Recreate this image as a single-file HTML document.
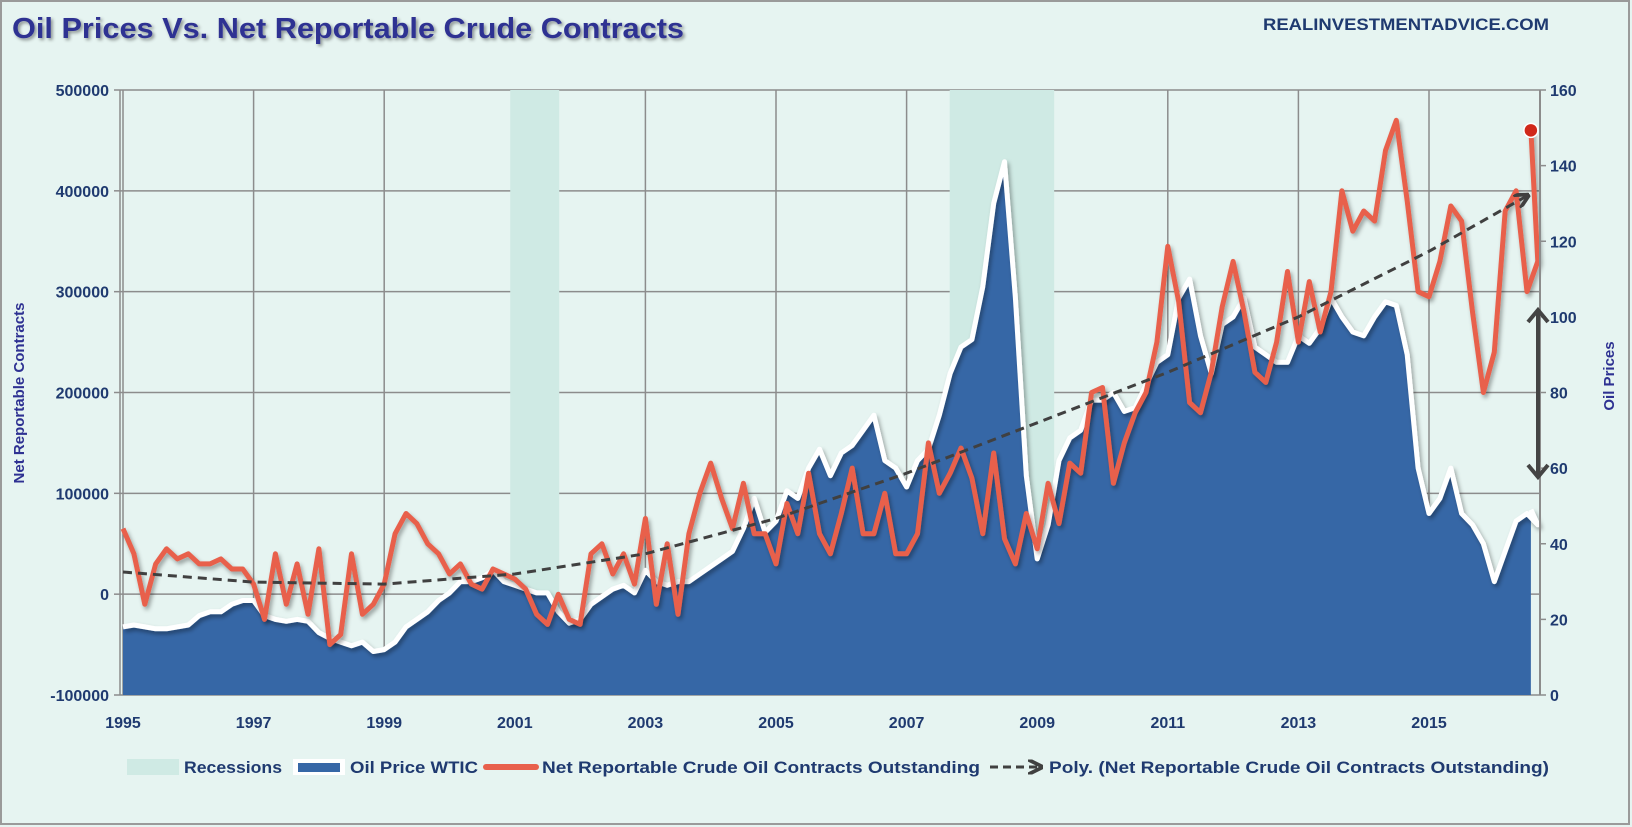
<!DOCTYPE html>
<html><head><meta charset="utf-8"><style>
html,body{margin:0;padding:0;background:#e6f4f1;}
svg{display:block;font-family:"Liberation Sans",Arial,sans-serif;}
</style></head><body>
<svg id="chart" width="1632" height="827" viewBox="0 0 1632 827">
<defs>
<filter id="sh" x="-5%" y="-5%" width="110%" height="110%"><feDropShadow dx="2" dy="3" stdDeviation="2" flood-color="#000" flood-opacity="0.35"/></filter>
<filter id="tsh"><feDropShadow dx="2" dy="2" stdDeviation="1.5" flood-color="#000" flood-opacity="0.4"/></filter>
<marker id="arr" viewBox="0 0 10 10" refX="8" refY="5" markerWidth="5" markerHeight="5" orient="auto"><path d="M0,0 L10,5 L0,10" fill="none" stroke="#404040" stroke-width="2.5"/></marker>
</defs>
<rect x="1" y="1" width="1628" height="823" fill="#e6f4f1" stroke="#9a9a9a" stroke-width="2"/>
<text x="12" y="38" font-size="29" font-weight="bold" fill="#2e3192" textLength="672" lengthAdjust="spacingAndGlyphs" filter="url(#tsh)">Oil Prices Vs. Net Reportable Crude Contracts</text>
<text x="1263" y="30" font-size="17" font-weight="bold" fill="#1f3a70" textLength="286" lengthAdjust="spacingAndGlyphs">REALINVESTMENTADVICE.COM</text>
<g id="grid"></g>
<g id="recess"></g>
<g id="oil"></g>
<g id="net"></g>
<g id="trend"></g>
<g id="axes"></g>
<text transform="translate(24,393) rotate(-90)" text-anchor="middle" font-size="15" font-weight="bold" fill="#2e3192">Net Reportable Contracts</text>
<text transform="translate(1614,376) rotate(-90)" text-anchor="middle" font-size="15" font-weight="bold" fill="#2e3192">Oil Prices</text>
<g>
<line x1="1538" y1="312" x2="1538" y2="475" stroke="#444" stroke-width="4"/>
<path d="M1528,322 L1538,310 L1548,322" fill="none" stroke="#444" stroke-width="4"/>
<path d="M1528,465 L1538,477 L1548,465" fill="none" stroke="#444" stroke-width="4"/>
</g>
<g>
<rect x="127" y="759" width="52" height="16" fill="#cfeae4"/>
<text x="184" y="773" font-size="17" font-weight="bold" fill="#1f3a70" textLength="98" lengthAdjust="spacingAndGlyphs">Recessions</text>
<rect x="293" y="759" width="52" height="16" fill="#fff"/>
<rect x="298" y="763" width="42" height="9" fill="#3667a6"/>
<text x="350" y="773" font-size="17" font-weight="bold" fill="#1f3a70" textLength="128" lengthAdjust="spacingAndGlyphs">Oil Price WTIC</text>
<line x1="486" y1="767" x2="536" y2="767" stroke="#e8604c" stroke-width="6" stroke-linecap="round"/>
<text x="542" y="773" font-size="17" font-weight="bold" fill="#1f3a70" textLength="438" lengthAdjust="spacingAndGlyphs">Net Reportable Crude Oil Contracts Outstanding</text>
<line x1="990" y1="767" x2="1040" y2="767" stroke="#404040" stroke-width="3" stroke-dasharray="8,5" marker-end="url(#arr)"/>
<text x="1049" y="773" font-size="17" font-weight="bold" fill="#1f3a70" textLength="500" lengthAdjust="spacingAndGlyphs">Poly. (Net Reportable Crude Oil Contracts Outstanding)</text>
</g>
</svg>
<script>
// ---- data ----
const startYear = 1995;
const stepPerYear = 6; // bimonthly observations
const oilPrices = [
18,18.5,18,17.5,17.5,18,
18.5,21,22,22,24,25,
25,21,20,19.5,20,19.5,
16.5,15,14,13,14,11.5,
12,14,18,20,22,25,
27,30,30,31,33,30,
29,28,27,27,22,19,
20,24,26,28,29,27,
33,30,29,30,30,32,
34,36,38,44,52,43,
46,54,52,60,65,58,
64,66,70,74,62,60,
55,62,65,74,85,92,
94,108,130,141,105,58,
36,45,62,68,70,78,
78,80,75,76,82,88,
90,105,110,95,85,98,
100,105,92,90,88,88,
95,93,97,105,100,96,
95,100,104,103,90,60,
48,52,60,48,45,40,
30,38,46,48,45,49];
const netContracts = [
65,40,-10,30,45,35,
40,30,30,35,25,25,
10,-25,40,-10,30,-20,
45,-50,-40,40,-20,-10,
10,60,80,70,50,40,
20,30,10,5,25,20,
15,5,-20,-30,0,-25,
-30,40,50,20,40,10,
75,-10,50,-20,60,100,
130,95,65,110,60,60,
30,90,60,120,60,40,
80,125,60,60,100,40,
40,60,150,100,120,145,
115,60,140,55,30,80,
45,110,70,130,120,200,
205,110,150,180,200,250,
345,290,190,180,220,285,
330,280,220,210,250,320,
250,310,260,300,400,360,
380,370,440,470,390,300,
295,330,385,370,280,200,
240,380,400,300,330,460]; // thousands
const trendYears = [1995,1997,1999,2001,2003,2005,2007,2009,2011,2013,2015,2016.5];
const trendValues = [22,12,10,20,40,75,120,170,220,275,340,395]; // thousands
const recessions = [[2000.93,2001.68],[2007.66,2009.26]];
const leftTicks = [-100000,0,100000,200000,300000,400000,500000];
const rightTicks = [0,20,40,60,80,100,120,140,160];
const xTickYears = [1995,1997,1999,2001,2003,2005,2007,2009,2011,2013,2015];

// ---- scales ----
const X0=123, PX_YEAR=65.3, TOP=90, BOT=695, LEFTX=120, RIGHTX=1540;
const xs = y => X0 + (y-startYear)*PX_YEAR;
const yl = v => BOT - (v+100000)/600000*(BOT-TOP);
const yr = v => BOT - v/160*(BOT-TOP);
const NS='http://www.w3.org/2000/svg';
function mk(tag, parent, attrs){const e=document.createElementNS(NS,tag);for(const k in attrs)e.setAttribute(k,attrs[k]);parent.appendChild(e);return e;}
const dateOf = (i,n) => i===n-1 ? 2016.56 : startYear + i/stepPerYear;

// grid
const g=document.getElementById('grid');
leftTicks.forEach(t=>{const l=mk('line',g,{x1:LEFTX,x2:RIGHTX,y1:yl(t),y2:yl(t),stroke:'#8c8c8c','stroke-width':1.5});

});
xTickYears.forEach(t=>{const l=mk('line',g,{x1:xs(t),x2:xs(t),y1:TOP,y2:BOT,stroke:'#8c8c8c','stroke-width':1.5});

});
// recessions
const rg=document.getElementById('recess');
recessions.forEach(r=>{const e=mk('rect',rg,{x:xs(r[0]),y:TOP,width:xs(r[1])-xs(r[0]),height:BOT-TOP,fill:'#cfeae4'});

});
// oil area
const og=document.getElementById('oil');
let pts=oilPrices.map((v,i)=>[xs(dateOf(i,oilPrices.length)),yr(v)]);
let d='M'+pts[0][0]+','+BOT+' '+pts.map(p=>'L'+p[0].toFixed(1)+','+p[1].toFixed(1)).join(' ')+' L'+pts[pts.length-1][0]+','+BOT+'Z';
const area=mk('path',og,{d:d,fill:'#3667a6'});


const oline=mk('path',og,{d:'M'+pts.map(p=>p[0].toFixed(1)+','+p[1].toFixed(1)).join(' L'),fill:'none',stroke:'#fff','stroke-width':5,'stroke-linejoin':'round',filter:'url(#sh)'});


// net contracts
const ng=document.getElementById('net');
let np=netContracts.map((v,i)=>[xs(dateOf(i,netContracts.length)),yl(v*1000)]);
const nl=mk('path',ng,{d:'M'+np.map(p=>p[0].toFixed(1)+','+p[1].toFixed(1)).join(' L'),fill:'none',stroke:'#e8604c','stroke-width':5,'stroke-linejoin':'round',filter:'url(#sh)'});


const last=np[np.length-1];
const dot=mk('circle',ng,{cx:last[0],cy:last[1],r:7,fill:'#d0281a',stroke:'#fff','stroke-width':1.5});


// trend
const tg=document.getElementById('trend');
const tp=trendYears.map((y,i)=>xs(y).toFixed(1)+','+yl(trendValues[i]*1000).toFixed(1));
const tl=mk('polyline',tg,{points:tp.join(' '),fill:'none',stroke:'#404040','stroke-width':3,'stroke-dasharray':'9,6','marker-end':'url(#arr)'});


// axes
const ag=document.getElementById('axes');
const la=mk('line',ag,{x1:LEFTX,x2:LEFTX,y1:TOP,y2:BOT,stroke:'#8c8c8c','stroke-width':1.5});


const ra=mk('line',ag,{x1:RIGHTX,x2:RIGHTX,y1:TOP,y2:BOT,stroke:'#8c8c8c','stroke-width':2});


leftTicks.forEach(t=>{const e=mk('text',ag,{x:109,y:yl(t)+6,'text-anchor':'end','font-size':16,'font-weight':'bold',fill:'#1f3a70'});e.textContent=String(t);


mk('line',ag,{x1:LEFTX-6,x2:LEFTX,y1:yl(t),y2:yl(t),stroke:'#8c8c8c','stroke-width':1.5});});
rightTicks.forEach(t=>{const e=mk('text',ag,{x:1550,y:yr(t)+6,'font-size':16,'font-weight':'bold',fill:'#1f3a70'});e.textContent=String(t);


mk('line',ag,{x1:RIGHTX,x2:RIGHTX+6,y1:yr(t),y2:yr(t),stroke:'#8c8c8c','stroke-width':1.5});});
xTickYears.forEach(t=>{const e=mk('text',ag,{x:xs(t),y:728,'text-anchor':'middle','font-size':16,'font-weight':'bold',fill:'#1f3a70'});e.textContent=String(t);

});
</script>
</body></html>
